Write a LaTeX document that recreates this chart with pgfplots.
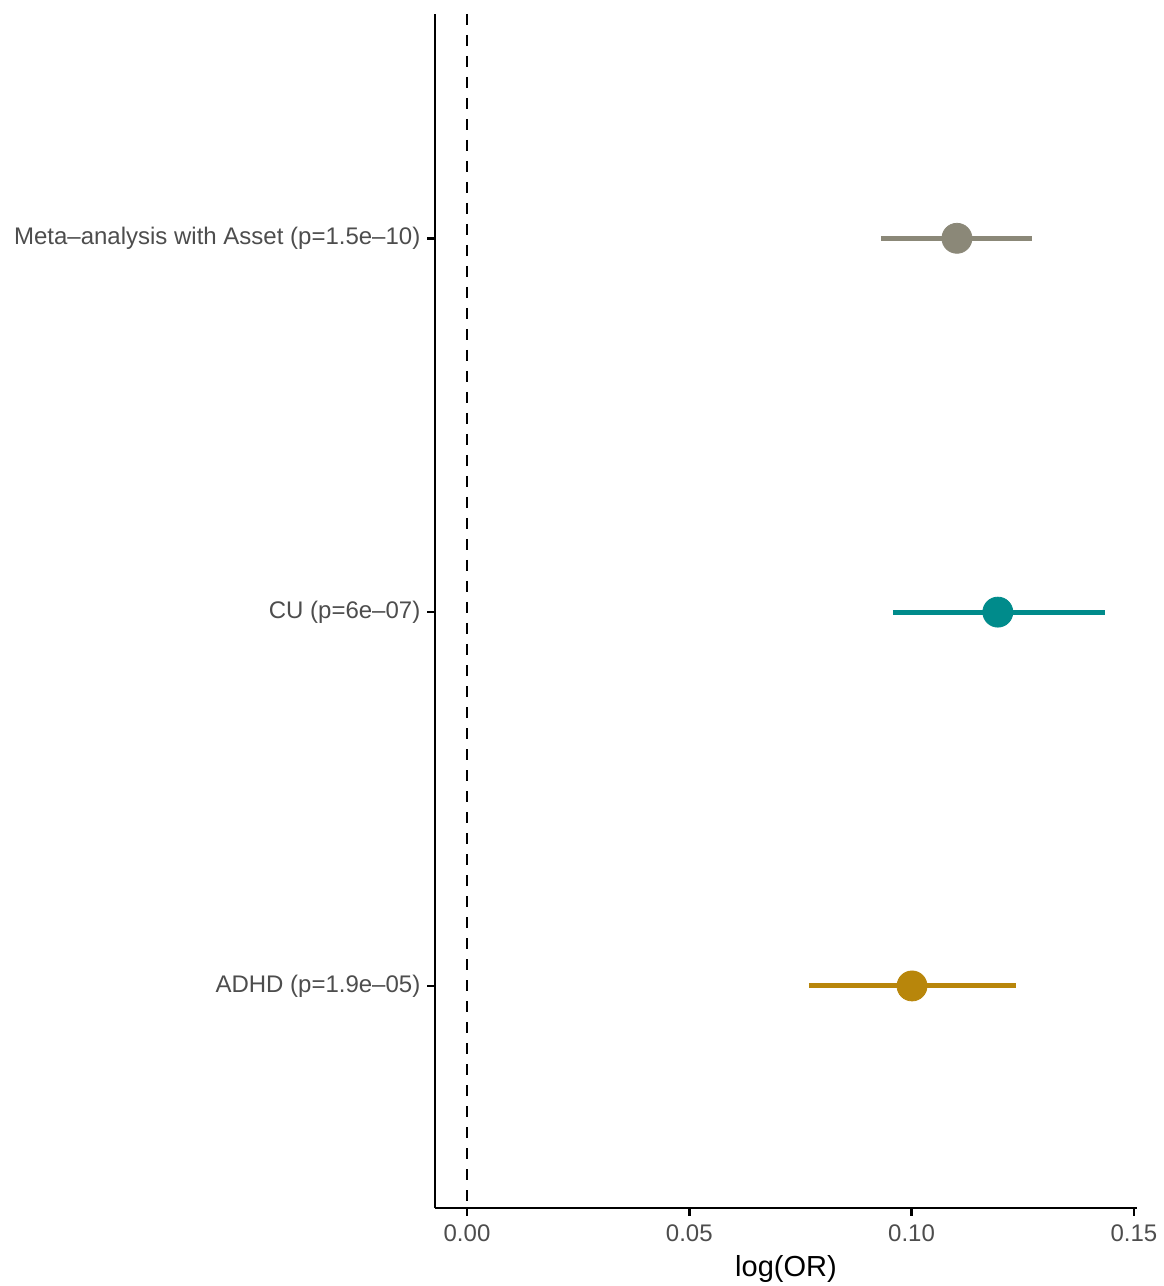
\documentclass[border=0pt]{standalone}
\usepackage{pgfplots}
\pgfplotsset{compat=1.18}
\usepackage{fontspec}
\setmainfont{Liberation Sans}
\usetikzlibrary{calc}
\definecolor{metagray}{HTML}{8B8878}
\definecolor{cuteal}{HTML}{008B8B}
\definecolor{adhdgold}{HTML}{B8860B}
\definecolor{ticktext}{HTML}{4D4D4D}
\begin{document}
\begin{tikzpicture}
\begin{axis}[
  name=ax,
  scale only axis,
  width=351pt, height=597pt,
  xmin=-0.0072, xmax=0.1507,
  ymin=0.406, ymax=3.6,
  axis x line*=bottom, axis y line*=left,
  axis line style={line width=1.3pt, black},
  tick style={line width=1.3pt, black},
  tick align=outside,
  major tick length=3.8pt,
  xtick={0,0.05,0.1,0.15},
  xticklabels={0.00,0.05,0.10,0.15},
  ytick={1,2,3},
  yticklabels={ADHD (p=1.9e\textendash05),CU (p=6e\textendash07),Meta\textendash analysis with Asset (p=1.5e\textendash10)},
  /pgf/number format/assume math mode=true,
  tick label style={font=\fontsize{12}{14}\selectfont, text=ticktext},
  xticklabel style={yshift=-1pt},
  yticklabel style={xshift=0pt},
  xlabel={log(OR)},
  xlabel style={font=\fontsize{14.5}{17}\selectfont, yshift=0pt},
  clip=false,
]
\addplot[black, line width=1.15pt, dash pattern=on 5.5pt off 5pt] coordinates {(0,3.6) (0,0.406)};
\addplot[metagray, line width=2.5pt] coordinates {(0.0931,3) (0.1271,3)};
\addplot[only marks, mark=*, mark size=7.5pt, color=metagray] coordinates {(0.1102,3)};
\addplot[cuteal, line width=2.5pt] coordinates {(0.0958,2) (0.1435,2)};
\addplot[only marks, mark=*, mark size=7.5pt, color=cuteal] coordinates {(0.1194,2)};
\addplot[adhdgold, line width=2.5pt] coordinates {(0.0769,1) (0.1235,1)};
\addplot[only marks, mark=*, mark size=7.5pt, color=adhdgold] coordinates {(0.1001,1)};
\end{axis}
\pgfresetboundingbox
\path[use as bounding box] ($(ax.south west)+(-217.5pt,-39pt)$) rectangle ($(ax.north east)+(13.5pt,7pt)$);
\end{tikzpicture}
\end{document}
